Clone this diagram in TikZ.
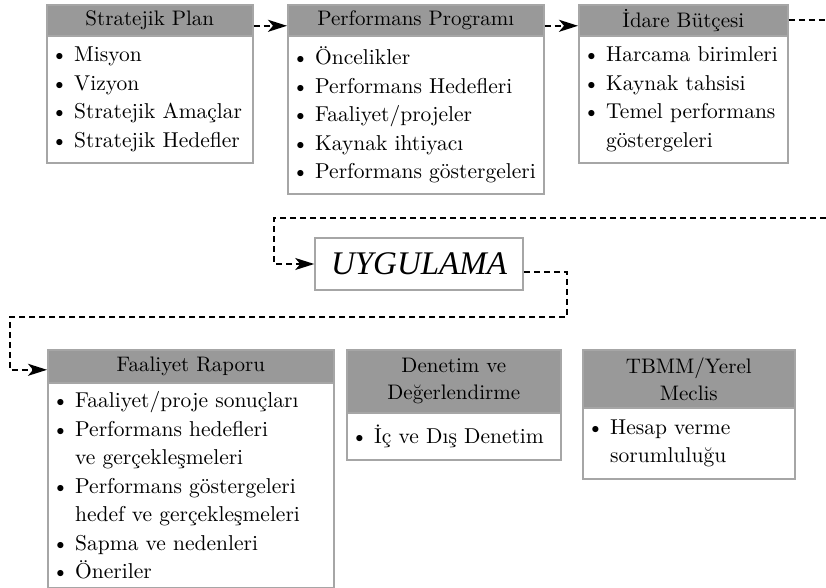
\documentclass[tikz,border=0pt]{standalone}
\usepackage{fontspec}
\setmainfont{lmroman10-regular}[Extension=.otf, ItalicFont=lmroman10-italic, BoldFont=lmroman10-bold]
\newfontfamily\ugfont{Liberation Serif}
\usetikzlibrary{arrows.meta,calc}
\definecolor{hdr}{HTML}{999999}
\definecolor{bord}{HTML}{A6A6A6}
\newcommand\itm[1]{\makebox[23pt][l]{\textbullet}#1}
\newcommand\cnt[1]{\hspace*{23pt}#1}
\tikzset{
  hdrbox/.style={draw=bord, fill=hdr, line width=1.6pt, anchor=north west, inner sep=0pt, align=center, font=\fontsize{21}{27}\selectfont},
  bodybox/.style={draw=bord, fill=white, line width=1.6pt, anchor=north west, inner sep=0pt},
  listtext/.style={anchor=west, inner sep=0pt, align=left, font=\fontsize{21.5}{28.5}\selectfont},
  conn/.style={line width=1.7pt, dash pattern=on 6pt off 4pt, -{Stealth[length=19pt,width=12pt,inset=5pt]}},
  connline/.style={line width=1.7pt, dash pattern=on 6pt off 4pt},
  ugbox/.style={draw=bord, line width=1.6pt, minimum width=208pt, minimum height=52pt, inner sep=0pt, font=\fontsize{33}{36}\ugfont\itshape},
}
\begin{document}
\begin{tikzpicture}[x=1pt,y=-1pt]
\useasboundingbox (0,0) rectangle (826,588);

% Box 1
\node[hdrbox, minimum width=206pt, minimum height=31pt] (h1) at (46,4) {Stratejik Plan};
\node[bodybox, minimum width=206pt, minimum height=127pt] (b1) at (46,35) {};
\node[listtext] (t1) at ([xshift=5pt]b1.west) {\itm{Misyon}\\\itm{Vizyon}\\\itm{Stratejik Amaçlar}\\\itm{Stratejik Hedefler}};

% Box 2
\node[hdrbox, minimum width=256pt, minimum height=31pt] (h2) at (287,4) {Performans Programı};
\node[bodybox, minimum width=256pt, minimum height=158pt] (b2) at (287,35) {};
\node[listtext] (t2) at ([xshift=5pt]b2.west) {\itm{Öncelikler}\\\itm{Performans Hedefleri}\\\itm{Faaliyet/projeler}\\\itm{Kaynak ihtiyacı}\\\itm{Performans göstergeleri}};

% Box 3
\node[hdrbox, minimum width=209pt, minimum height=31pt] (h3) at (578,4) {İdare Bütçesi};
\node[bodybox, minimum width=209pt, minimum height=127pt] (b3) at (578,35) {};
\node[listtext] (t3) at ([xshift=5pt]b3.west) {\itm{Harcama birimleri}\\\itm{Kaynak tahsisi}\\\itm{Temel performans}\\\cnt{göstergeleri}};

% UYGULAMA
\node[ugbox] (ug) at (419,264) {UYGULAMA};

% Box 4
\node[hdrbox, minimum width=286pt, minimum height=33pt] (h4) at (47,349) {Faaliyet Raporu};
\node[bodybox, minimum width=286pt, minimum height=205pt] (b4) at (47,382) {};
\node[listtext] (t4) at ([xshift=5pt]b4.west) {\itm{Faaliyet/proje sonuçları}\\\itm{Performans hedefleri}\\\cnt{ve gerçekleşmeleri}\\\itm{Performans göstergeleri}\\\cnt{hedef ve gerçekleşmeleri}\\\itm{Sapma ve nedenleri}\\\itm{Öneriler}};

% Box 5
\node[hdrbox, minimum width=214pt, minimum height=63pt] (h5) at (346,349) {Denetim ve\\Değerlendirme};
\node[bodybox, minimum width=214pt, minimum height=47pt] (b5) at (346,412) {};
\node[listtext] (t5) at ([xshift=5pt]b5.west) {\itm{İç ve Dış Denetim}};

% Box 6
\node[hdrbox, minimum width=212pt, minimum height=58pt] (h6) at (582,349) {TBMM/Yerel\\Meclis};
\node[bodybox, minimum width=212pt, minimum height=71pt] (b6) at (582,407) {};
\node[listtext] (t6) at ([xshift=5pt]b6.west) {\itm{Hesap verme}\\\cnt{sorumluluğu}};

% connectors
\coordinate (e1) at (826,20);
\coordinate (e2) at (826,218);
\coordinate (k0) at (274,218);
\coordinate (k1) at (567,317);
\coordinate (k2) at (10,317);

\draw[conn] ([yshift=-5.5pt]h1.east) -- ([yshift=-5.5pt]h2.west);
\draw[conn] ([yshift=-5.5pt]h2.east) -- ([yshift=-5.5pt]h3.west);
\draw[connline] (h3.east |- e1) -- (e1);
\draw[conn] (e2) -- (k0) |- (ug.west);
\draw[conn] ([yshift=-8pt]ug.east) -| (k1) -- (k2) |- ([yshift=-3.5pt]h4.west);
\end{tikzpicture}
\end{document}
